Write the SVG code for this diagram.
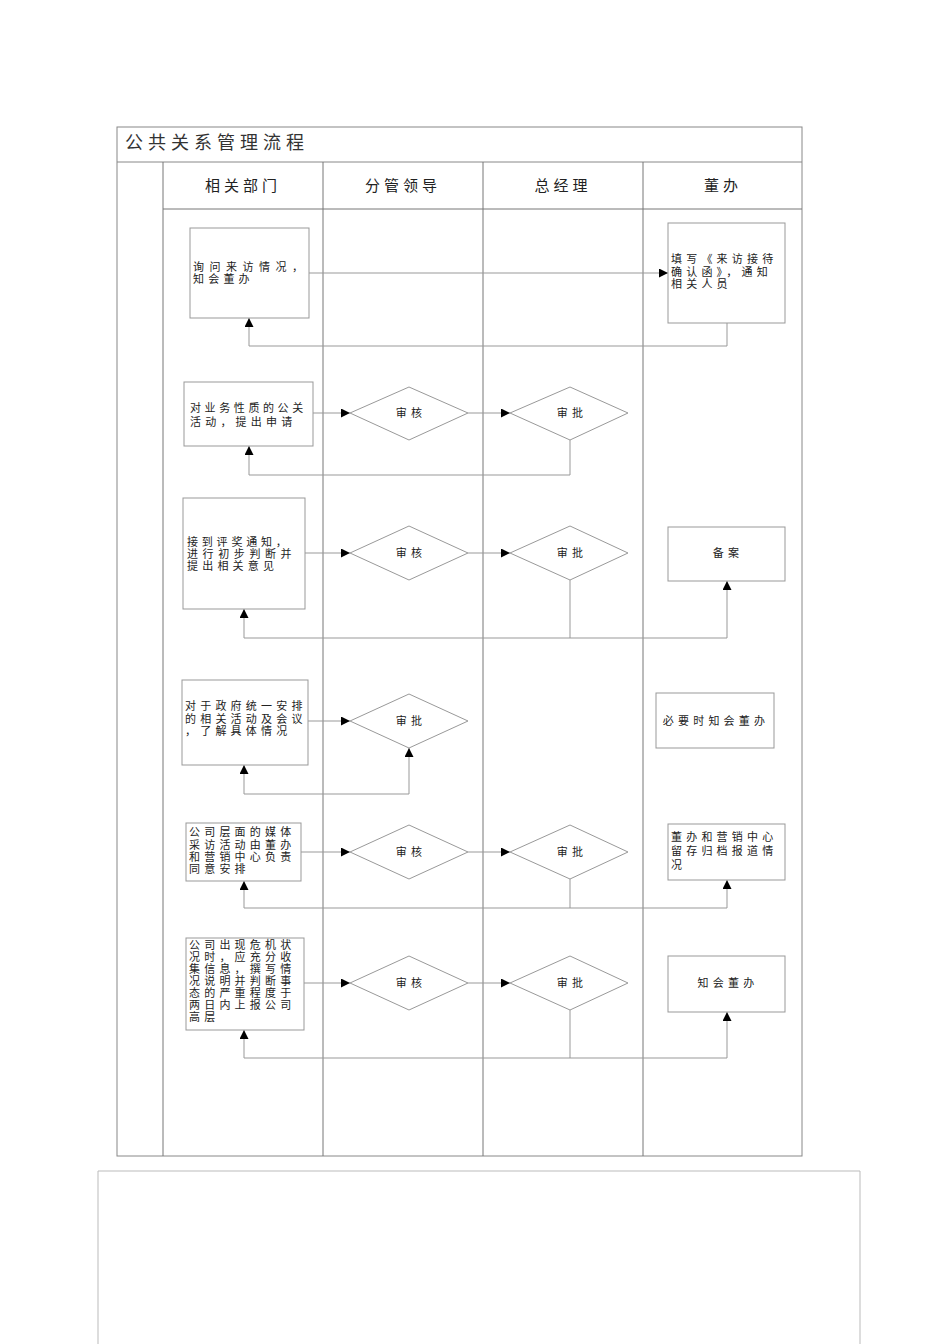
<svg xmlns="http://www.w3.org/2000/svg" width="950" height="1344" viewBox="0 0 950 1344">
<style>
.frame{fill:none;stroke:#888;stroke-width:1}
.lane{fill:none;stroke:#777;stroke-width:1}
.box{fill:#fff;stroke:#999;stroke-width:1}
.dia{fill:#fff;stroke:#999;stroke-width:1}
.con{fill:none;stroke:#999;stroke-width:1}
.t{font-family:"Liberation Sans","Noto Sans CJK SC",sans-serif;font-size:11px;fill:#222;letter-spacing:4.2px}
.c{text-anchor:middle}
.h{font-family:"Liberation Sans","Noto Sans CJK SC",sans-serif;font-size:15px;fill:#222;text-anchor:middle;letter-spacing:4px}
.title{font-family:"Liberation Sans","Noto Sans CJK SC",sans-serif;font-size:18px;fill:#333;letter-spacing:5px}
</style>
<defs>
<marker id="ar" viewBox="0 0 10 10" refX="10" refY="5" markerWidth="9" markerHeight="9" markerUnits="userSpaceOnUse" orient="auto">
<path d="M0,0 L10,5 L0,10 Z" fill="#000"/>
</marker>
</defs>
<rect width="950" height="1344" fill="#fff"/>
<g id="frame">
<rect class="frame" x="117" y="127" width="685" height="1029"/>
<line class="frame" x1="117" y1="162" x2="802" y2="162"/>
<line class="lane" x1="163" y1="209" x2="802" y2="209"/>
<line class="lane" x1="163" y1="162" x2="163" y2="1156"/>
<line class="lane" x1="323" y1="162" x2="323" y2="1156"/>
<line class="lane" x1="483" y1="162" x2="483" y2="1156"/>
<line class="lane" x1="643" y1="162" x2="643" y2="1156"/>
<text class="title" x="125" y="149">公共关系管理流程</text>
<text class="h" x="243" y="191">相关部门</text>
<text class="h" x="403" y="191">分管领导</text>
<text class="h" x="563" y="191">总经理</text>
<text class="h" x="723" y="191">董办</text>
<path d="M98,1344 L98,1171 L860,1171 L860,1344" fill="none" stroke="#bbb" stroke-width="1"/>
</g>
<g id="connectors">
<line class="con" x1="309" y1="273" x2="668" y2="273" marker-end="url(#ar)"/>
<polyline class="con" points="727,323 727,346 249,346 249,318" marker-end="url(#ar)"/>
<line class="con" x1="313" y1="413" x2="350" y2="413" marker-end="url(#ar)"/>
<line class="con" x1="468" y1="413" x2="510" y2="413" marker-end="url(#ar)"/>
<polyline class="con" points="570,440 570,475 249,475 249,446" marker-end="url(#ar)"/>
<line class="con" x1="305" y1="553" x2="350" y2="553" marker-end="url(#ar)"/>
<line class="con" x1="468" y1="553" x2="510" y2="553" marker-end="url(#ar)"/>
<line class="con" x1="570" y1="580" x2="570" y2="638"/>
<polyline class="con" points="570,638 244,638 244,609" marker-end="url(#ar)"/>
<polyline class="con" points="570,638 727,638 727,581" marker-end="url(#ar)"/>
<line class="con" x1="308" y1="721" x2="350" y2="721" marker-end="url(#ar)"/>
<polyline class="con" points="326,794 244,794 244,765" marker-end="url(#ar)"/>
<polyline class="con" points="326,794 409,794 409,748" marker-end="url(#ar)"/>
<line class="con" x1="301" y1="852" x2="350" y2="852" marker-end="url(#ar)"/>
<line class="con" x1="468" y1="852" x2="510" y2="852" marker-end="url(#ar)"/>
<line class="con" x1="570" y1="879" x2="570" y2="908"/>
<polyline class="con" points="570,908 244,908 244,881" marker-end="url(#ar)"/>
<polyline class="con" points="570,908 727,908 727,880" marker-end="url(#ar)"/>
<line class="con" x1="304" y1="983" x2="350" y2="983" marker-end="url(#ar)"/>
<line class="con" x1="468" y1="983" x2="510" y2="983" marker-end="url(#ar)"/>
<line class="con" x1="570" y1="1010" x2="570" y2="1058"/>
<polyline class="con" points="570,1058 244,1058 244,1030" marker-end="url(#ar)"/>
<polyline class="con" points="570,1058 727,1058 727,1012" marker-end="url(#ar)"/>
</g>
<g id="n1a">
<rect class="box" x="190" y="228" width="119" height="90"/>
<text class="t" x="193" y="271" style="letter-spacing:5.5px">询问来访情况，</text>
<text class="t" x="193" y="283">知会董办</text>
</g>
<g id="n1b">
<rect class="box" x="668" y="223" width="117" height="100"/>
<text class="t" x="671" y="263">填写《来访接待</text>
<text class="t" x="671" y="276">确认函》，通知</text>
<text class="t" x="671" y="288">相关人员</text>
</g>
<g id="n2a">
<rect class="box" x="184" y="382" width="129" height="64"/>
<text class="t" x="190" y="412" style="letter-spacing:3.6px">对业务性质的公关</text>
<text class="t" x="190" y="426">活动，提出申请</text>
</g>
<g id="n2b">
<polygon class="dia" points="350,413 409,387 468,413 409,440"/>
<text class="t c" x="411" y="417">审核</text>
</g>
<g id="n2c">
<polygon class="dia" points="510,413 570,387 628,413 570,440"/>
<text class="t c" x="572" y="417">审批</text>
</g>
<g id="n3a">
<rect class="box" x="183" y="498" width="122" height="111"/>
<text class="t" x="187" y="546" style="letter-spacing:3.8px">接到评奖通知，</text>
<text class="t" x="187" y="558" style="letter-spacing:4.6px">进行初步判断并</text>
<text class="t" x="187" y="570">提出相关意见</text>
</g>
<g id="n3b">
<polygon class="dia" points="350,553 409,526 468,553 409,580"/>
<text class="t c" x="411" y="557">审核</text>
</g>
<g id="n3c">
<polygon class="dia" points="510,553 570,526 628,553 570,580"/>
<text class="t c" x="572" y="557">审批</text>
</g>
<g id="n3d">
<rect class="box" x="668" y="527" width="117" height="54"/>
<text class="t c" x="728" y="557">备案</text>
</g>
<g id="n4a">
<rect class="box" x="182" y="680" width="126" height="85"/>
<text class="t" x="185" y="710">对于政府统一安排</text>
<text class="t" x="185" y="723">的相关活动及会议</text>
<text class="t" x="185" y="735">，了解具体情况</text>
</g>
<g id="n4b">
<polygon class="dia" points="350,721 409,694 468,721 409,748"/>
<text class="t c" x="411" y="725">审批</text>
</g>
<g id="n4c">
<rect class="box" x="656" y="693" width="118" height="55"/>
<text class="t c" x="716" y="725">必要时知会董办</text>
</g>
<g id="n5a">
<rect class="box" x="186" y="823" width="115" height="58"/>
<text class="t" x="189" y="836">公司层面的媒体</text>
<text class="t" x="189" y="849">采访活动由董办</text>
<text class="t" x="189" y="861">和营销中心负责</text>
<text class="t" x="189" y="873">同意安排</text>
</g>
<g id="n5b">
<polygon class="dia" points="350,852 409,825 468,852 409,879"/>
<text class="t c" x="411" y="856">审核</text>
</g>
<g id="n5c">
<polygon class="dia" points="510,852 570,825 628,852 570,879"/>
<text class="t c" x="572" y="856">审批</text>
</g>
<g id="n5d">
<rect class="box" x="668" y="824" width="117" height="56"/>
<text class="t" x="671" y="841">董办和营销中心</text>
<text class="t" x="671" y="855">留存归档报道情</text>
<text class="t" x="671" y="869">况</text>
</g>
<g id="n6a">
<rect class="box" x="186" y="938" width="118" height="92"/>
<text class="t" x="189" y="949">公司出现危机状</text>
<text class="t" x="189" y="961">况时，应充分收</text>
<text class="t" x="189" y="973">集信息，撰写情</text>
<text class="t" x="189" y="985">况说明并判断事</text>
<text class="t" x="189" y="997">态的严重程度于</text>
<text class="t" x="189" y="1009">两日内上报公司</text>
<text class="t" x="189" y="1021">高层</text>
</g>
<g id="n6b">
<polygon class="dia" points="350,983 409,956 468,983 409,1010"/>
<text class="t c" x="411" y="987">审核</text>
</g>
<g id="n6c">
<polygon class="dia" points="510,983 570,956 628,983 570,1010"/>
<text class="t c" x="572" y="987">审批</text>
</g>
<g id="n6d">
<rect class="box" x="668" y="956" width="117" height="56"/>
<text class="t c" x="728" y="987">知会董办</text>
</g>
</svg>
